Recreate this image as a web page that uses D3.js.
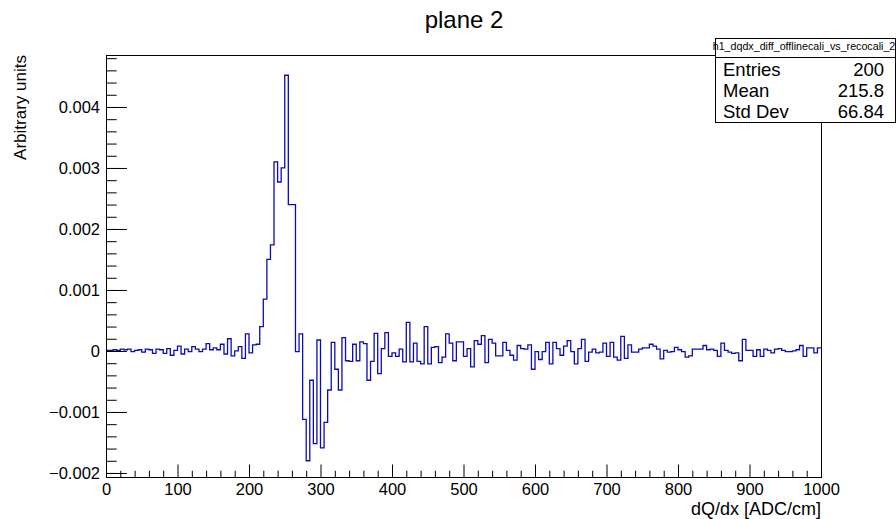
<!DOCTYPE html>
<html>
<head>
<meta charset="utf-8">
<script src="https://cdn.jsdelivr.net/npm/d3@7"></script>
<style>
    body { margin: 0; background: #fff; }
    text { font-family: "Liberation Sans", Arial, sans-serif; fill: #000; }
</style>
</head>
<body>
<script>
// histogram h1_dqdx_diff_offlinecali_vs_recocali_2 : 200 bins, 0..1000
const xRange = [0, 1000];
const binWidth = 5;
const binValues = [
    0.00001, 0.00001, 0.00002, 0.00001, 0.00003, 0.00002, 0.00003, -0.00001, 0.00001, 0.00002,
    -0.00002, 0.00003, 0.00002, -0.00004, 0.00003, 0.00002, -0.00004, 0.00004, -0.00007, 0.00001,
    0.00008, -0.00005, 0.00003, -0.00001, 0.00007, 0.00003, -0.00001, 0.00003, 0.00012, 0.00002,
    0.00005, 0.00002, 0.00011, -0.00005, 0.0002, -0.00008, 0, 0.00007, -0.00012, 0.00028,
    -0.00003, 0.0001, 0.00011, 0.0004, 0.00085, 0.0015, 0.00174, 0.0031, 0.00277, 0.003,
    0.00452, 0.0024, 0.0024, -0.00001, 0.00028, -0.00112, -0.0018, -0.00048, -0.00152, 0.00018,
    -0.00159, -0.00117, -0.00064, 0.00014, -0.0003, -0.00064, 0.00022, -0.00016, -0.00017, 0.00011,
    -0.00016, 0.00015, 0.00012, -0.00048, -0.00017, 0.00029, -0.00037, 0.00004, 0.0003, -0.00009,
    -0.00003, -0.00009, 0.00003, -0.00018, 0.00047, -0.00018, 0.00013, -0.00017, -0.00021, 0.0004,
    -0.00021, 0.00006, 0.00007, -0.00019, -0.0001, 0.00028, 0.00013, -0.00016, 0.00015, 0.00015,
    -0.00009, 0.00004, -0.00026, 0.00017, 0.00011, 0.00025, -0.00019, 0.00019, 0.00013, -0.00008,
    -0.00008, 0.00014, 0.00001, -0.00007, -0.00015, 0.00009, 0.00004, 0.00003, 0.0001, -0.0003,
    -0.00001, -0.00014, -0.00001, 0.00014, -0.00021, 0.00014, 0.00004, -0.00007, 0.00008, 0.00017,
    -0.00001, -0.00021, 0.00004, 0.00019, -0.00017, -0.00002, 0.00003, -0.00003, -0.00002, 0.00013,
    -0.00009, 0.00014, -0.0001, -0.00015, 0.00024, -0.00012, 0.0001, -0.00002, -0.00002, 0.00003,
    0.00005, 0.00005, 0.00011, 0.00008, 0.00003, -0.00013, 0.00001, -0.00002, -0.00001, 0.00006,
    0.00002, -0.00001, -0.0001, -0.00008, 0.00003, 0.00003, 0.00003, 0.00009, 0.00002, 0.00003,
    0.00001, -0.00009, 0.00013, 0.00001, -0.00002, -0.00004, -0.00003, -0.00016, 0.00019, 0.00001,
    0.00001, -0.00009, 0.00002, -0.00009, 0.00003, 0.00001, -0.00003, 0.00003, 0.00004, 0.00001,
    -0.00001, -0.00001, 0, 0.00002, 0.00009, -0.00009, 0.00005, 0.00005, -0.00003, 0.00005
];

const xMajorTicks = [0, 100, 200, 300, 400, 500, 600, 700, 800, 900, 1000];
const yMajorTicks = [-0.002, -0.001, 0, 0.001, 0.002, 0.003, 0.004];
const yRange = [-0.002066, 0.004852];

const statsTitle = 'h1_dqdx_diff_offlinecali_vs_recocali_2';
const statsLabels = ['Entries', 'Mean', 'Std Dev'];
const statsValues = ['200', '215.8', '66.84'];

(function () {

    const W = 896, H = 519;
    const frame = {left: 106, right: 821, top: 55, bottom: 477};

    const svg = d3.select('body')
        .append('svg')
        .attr('width', W)
        .attr('height', H);

    const scaleX = d3.scaleLinear()
        .domain(xRange)
        .range([frame.left, frame.right]);

    const scaleY = d3.scaleLinear()
        .domain(yRange)
        .range([frame.bottom, frame.top]);

    // minor ticks: 4 between majors
    const xMinor = d3.range(0, 1001, 20).filter(v => v % 100 !== 0);
    const yMinor = d3.range(-20, 49, 2).map(v => v / 10000)
        .filter(v => v >= yRange[0] && v <= yRange[1]);

    const fmtY = v => v === 0 ? '0' : (v < 0 ? '\u2212' : '') + Math.abs(v).toFixed(3);

    // x axis
    const xAxis = svg.append('g')
        .attr('transform', 'translate(0,' + frame.bottom + ')')
        .call(d3.axisBottom(scaleX).tickValues(xMajorTicks)
            .tickSizeInner(-12.5).tickSizeOuter(0).tickPadding(6)
            .tickFormat(d3.format('d')));
    xAxis.select('.domain').remove();
    xAxis.selectAll('text').style('font-size', '16.5px');

    svg.append('g')
        .attr('transform', 'translate(0,' + frame.bottom + ')')
        .call(d3.axisBottom(scaleX).tickValues(xMinor)
            .tickSizeInner(-6.3).tickSizeOuter(0).tickFormat(''))
        .select('.domain').remove();

    // y axis
    const yAxis = svg.append('g')
        .attr('transform', 'translate(' + frame.left + ',0)')
        .call(d3.axisLeft(scaleY).tickValues(yMajorTicks)
            .tickSizeInner(-21).tickSizeOuter(0).tickPadding(6)
            .tickFormat(fmtY));
    yAxis.select('.domain').remove();
    yAxis.selectAll('text').style('font-size', '16.5px');

    svg.append('g')
        .attr('transform', 'translate(' + frame.left + ',0)')
        .call(d3.axisLeft(scaleY).tickValues(yMinor)
            .tickSizeInner(-10.7).tickSizeOuter(0).tickFormat(''))
        .select('.domain').remove();

    svg.selectAll('.tick line').attr('stroke', '#000');

    // histogram as steps
    svg.append('clipPath').attr('id', 'frameclip')
        .append('rect')
        .attr('x', frame.left).attr('y', frame.top)
        .attr('width', frame.right - frame.left)
        .attr('height', frame.bottom - frame.top);

    const steps = [];
    binValues.forEach((v, i) => {
        steps.push([xRange[0] + i * binWidth, v]);
        steps.push([xRange[0] + (i + 1) * binWidth, v]);
    });

    const line = d3.line()
        .x(d => scaleX(d[0]))
        .y(d => scaleY(d[1]));

    svg.append('path')
        .datum(steps)
        .attr('clip-path', 'url(#frameclip)')
        .attr('fill', 'none')
        .attr('stroke', '#0c0cb4')
        .attr('stroke-width', 1.3)
        .attr('d', line);

    // frame
    svg.append('rect')
        .attr('x', frame.left + 0.5).attr('y', frame.top + 0.5)
        .attr('width', frame.right - frame.left)
        .attr('height', frame.bottom - frame.top)
        .attr('fill', 'none')
        .attr('stroke', '#000')
        .attr('stroke-width', 1);

    // titles
    svg.append('text')
        .attr('x', 464).attr('y', 28)
        .attr('text-anchor', 'middle')
        .style('font-size', '24px')
        .text('plane 2');

    svg.append('text')
        .attr('x', frame.right).attr('y', 515)
        .attr('text-anchor', 'end')
        .style('font-size', '18px')
        .text('dQ/dx [ADC/cm]');

    svg.append('text')
        .attr('transform', 'translate(26,' + frame.top + ') rotate(-90)')
        .attr('text-anchor', 'end')
        .style('font-size', '17px')
        .text('Arbitrary units');

    // stats box
    const box = {x: 715, y: 38, w: 180, h: 84, sep: 57};
    svg.append('rect')
        .attr('x', box.x + 0.5).attr('y', box.y + 0.5)
        .attr('width', box.w).attr('height', box.h)
        .attr('fill', '#fff').attr('stroke', '#000');
    svg.append('line')
        .attr('x1', box.x).attr('x2', box.x + box.w)
        .attr('y1', box.sep + 0.5).attr('y2', box.sep + 0.5)
        .attr('stroke', '#000');
    svg.append('text')
        .attr('x', box.x + box.w / 2 - 1).attr('y', box.y + 12)
        .attr('text-anchor', 'middle')
        .style('font-size', '10.7px')
        .text(statsTitle);

    statsLabels.forEach((lab, i) => {
        const yy = 69 + i * 21 + 6.5;
        svg.append('text')
            .attr('x', 723).attr('y', yy)
            .style('font-size', '18.5px')
            .text(lab);
        svg.append('text')
            .attr('x', 884).attr('y', yy)
            .attr('text-anchor', 'end')
            .style('font-size', '18.5px')
            .text(statsValues[i]);
    });

})();
</script>
</body>
</html>
